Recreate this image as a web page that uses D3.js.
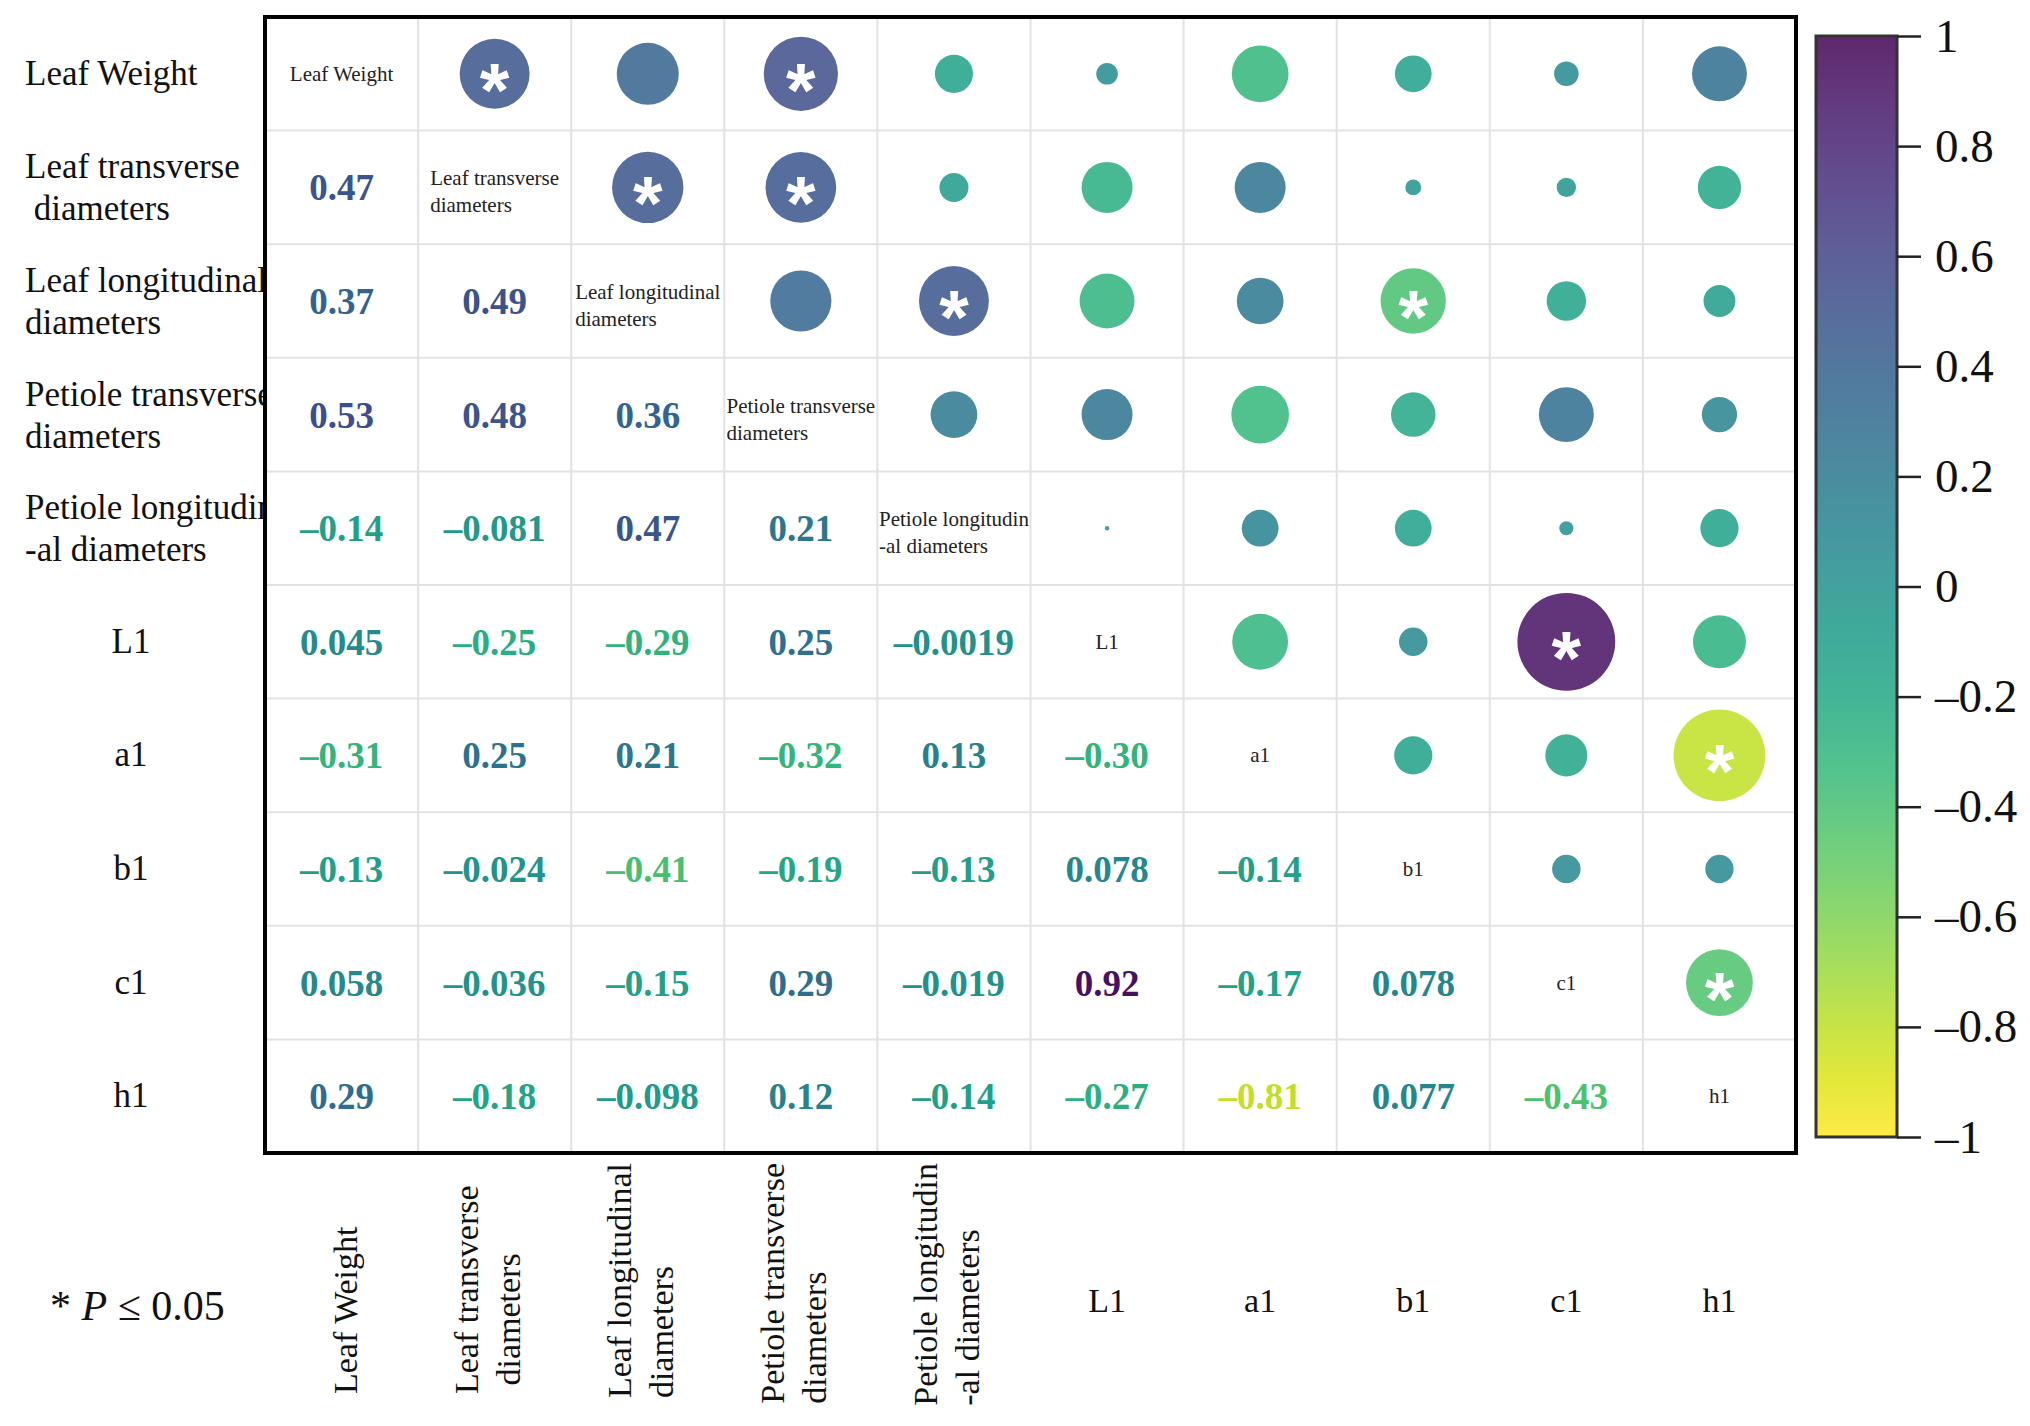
<!DOCTYPE html>
<html>
<head>
<meta charset="utf-8">
<script src="https://cdn.jsdelivr.net/npm/d3@7"></script>
<style>
body { margin: 0; background: #fff; }
text { font-family: "Liberation Serif", "Times New Roman", serif; }
</style>
</head>
<body>
<svg id="chart" width="2030" height="1426"></svg>
<script>
// variable names, split into the lines they are drawn with
const labelLines = [
  ["Leaf Weight"],
  ["Leaf transverse", " diameters"],
  ["Leaf longitudinal", "diameters"],
  ["Petiole transverse", "diameters"],
  ["Petiole longitudin", "-al diameters"],
  ["L1"], ["a1"], ["b1"], ["c1"], ["h1"]
];

// lower triangle of the correlation matrix, row by row
const lowerR = [
  [],
  [0.47],
  [0.37, 0.49],
  [0.53, 0.48, 0.36],
  [-0.14, -0.081, 0.47, 0.21],
  [0.045, -0.25, -0.29, 0.25, -0.0019],
  [-0.31, 0.25, 0.21, -0.32, 0.13, -0.30],
  [-0.13, -0.024, -0.41, -0.19, -0.13, 0.078, -0.14],
  [0.058, -0.036, -0.15, 0.29, -0.019, 0.92, -0.17, 0.078],
  [0.29, -0.18, -0.098, 0.12, -0.14, -0.27, -0.81, 0.077, -0.43]
];

// pairs (row, col) with P <= 0.05
const sigPairs = [[1,0],[3,0],[2,1],[3,1],[4,2],[7,2],[8,5],[9,6],[9,8]];

const cbTicks = [1, 0.8, 0.6, 0.4, 0.2, 0, -0.2, -0.4, -0.6, -0.8, -1];

var n = labelLines.length;
var R = d3.range(n).map(i => d3.range(n).map(j =>
  i === j ? 1 : (i > j ? lowerR[i][j] : lowerR[j][i])));
var sig = new Set(sigPairs.map(p => Math.min(p[0],p[1]) + "-" + Math.max(p[0],p[1])));

var svg = d3.select("#chart");

var plot = {left: 265, top: 17, right: 1796, bottom: 1153};

var x = d3.scaleBand().domain(d3.range(n)).range([plot.left, plot.right]);
var y = d3.scaleBand().domain(d3.range(n)).range([plot.top, plot.bottom]);
var radius = d3.scaleSqrt().domain([0, 1]).range([0, 51]);
var color = r => d3.interpolateViridis((1 - r) / 2);

var loc = d3.formatLocale({decimal: ".", thousands: ",", grouping: [3], currency: ["", ""], minus: "\u2013"});
var fmt = loc.format(".2r");
var fmtTick = loc.format("");

// row labels on the left (drawn first, the plot box covers their overflow)
var rowLab = svg.append("g");
labelLines.forEach(function(lines, i) {
  var cy = y(i) + y.bandwidth() / 2;
  var t = rowLab.append("text")
    .attr("xml:space", "preserve")
    .style("font-size", "35px")
    .attr("fill", "#111");
  lines.forEach(function(line, k) {
    var off = lines.length > 1 ? (k - 0.5) * 42 + 1 : 0;
    t.append("tspan")
      .attr("x", line.length > 3 ? 25 : 131)
      .attr("y", cy + 11 + off)
      .attr("text-anchor", line.length > 3 ? "start" : "middle")
      .text(line);
  });
});

// plot background
svg.append("rect")
  .attr("x", plot.left).attr("y", plot.top)
  .attr("width", plot.right - plot.left).attr("height", plot.bottom - plot.top)
  .attr("fill", "#fff");

// grid
var grid = svg.append("g").attr("stroke", "#e2e2e2").attr("stroke-width", 2);
d3.range(1, n).forEach(function(k) {
  grid.append("line").attr("x1", x(k)).attr("x2", x(k)).attr("y1", plot.top).attr("y2", plot.bottom);
  grid.append("line").attr("y1", y(k)).attr("y2", y(k)).attr("x1", plot.left).attr("x2", plot.right);
});

var cells = [];
R.forEach((row, i) => row.forEach((r, j) => cells.push({i: i, j: j, r: r})));

// circles in the upper triangle
var upper = cells.filter(d => d.j > d.i);
svg.append("g").selectAll("circle")
  .data(upper)
  .enter().append("circle")
    .attr("cx", d => x(d.j) + x.bandwidth() / 2)
    .attr("cy", d => y(d.i) + y.bandwidth() / 2)
    .attr("r", d => radius(Math.abs(d.r)))
    .attr("fill", d => color(d.r))
    .attr("fill-opacity", 0.85);

// significance stars
svg.append("g").selectAll("text")
  .data(upper.filter(d => sig.has(d.i + "-" + d.j)))
  .enter().append("text")
    .attr("x", d => x(d.j) + x.bandwidth() / 2)
    .attr("y", d => y(d.i) + y.bandwidth() / 2 + 42)
    .attr("text-anchor", "middle")
    .style("font-family", "'Liberation Sans', Arial, sans-serif")
    .style("font-weight", "bold")
    .style("font-size", "76px")
    .attr("fill", "#fff")
    .text("*");

// numbers in the lower triangle
svg.append("g").selectAll("text")
  .data(cells.filter(d => d.j < d.i))
  .enter().append("text")
    .attr("x", d => x(d.j) + x.bandwidth() / 2)
    .attr("y", d => y(d.i) + y.bandwidth() / 2 + 13)
    .attr("text-anchor", "middle")
    .style("font-size", "37px")
    .style("font-weight", "bold")
    .attr("fill", d => color(d.r))
    .text(d => fmt(d.r));

// variable names on the diagonal
var diag = svg.append("g");
labelLines.forEach(function(lines, i) {
  var cx = x(i) + x.bandwidth() / 2;
  var cy = y(i) + y.bandwidth() / 2;
  var t = diag.append("text")
    .style("font-size", "21px")
    .attr("fill", "#222");
  if (lines.length === 1) {
    t.attr("x", cx).attr("y", cy + 7).attr("text-anchor", "middle").text(lines[0]);
  } else {
    var spans = lines.map((line, k) => t.append("tspan").attr("y", cy - 2 + k * 27).text(line.trim()));
    var w = d3.max(spans, s => s.node().getComputedTextLength());
    spans.forEach(s => s.attr("x", cx - w / 2));
  }
});

// frame
svg.append("rect")
  .attr("x", plot.left).attr("y", plot.top)
  .attr("width", plot.right - plot.left).attr("height", plot.bottom - plot.top)
  .attr("fill", "none").attr("stroke", "#000").attr("stroke-width", 4);

// column labels below
var colLab = svg.append("g").attr("fill", "#111");
labelLines.forEach(function(lines, j) {
  var cx = x(j) + x.bandwidth() / 2;
  if (lines[0].length > 3) {
    var g = colLab.append("g");
    var texts = lines.map(function(line, k) {
      var off = lines.length > 1 ? (k === 0 ? -28 : 14) : 4;
      return g.append("text")
        .attr("xml:space", "preserve")
        .attr("x", 0).attr("y", off + 11)
        .style("font-size", "34px")
        .text(line);
    });
    // long names start lower so they stay clear of the frame
    var len = d3.max(texts, t => t.node().getComputedTextLength());
    var y0 = Math.max(1394, plot.bottom + 10 + len);
    g.attr("transform", "translate(" + cx + "," + y0 + ") rotate(-90)");
  } else {
    colLab.append("text")
      .attr("x", cx).attr("y", 1312)
      .attr("text-anchor", "middle")
      .style("font-size", "34px")
      .text(lines[0]);
  }
});

// significance note
var note = svg.append("text")
  .attr("x", 50).attr("y", 1320)
  .style("font-size", "42px")
  .attr("fill", "#111")
  .attr("xml:space", "preserve");
note.append("tspan").text("* ");
note.append("tspan").style("font-style", "italic").text("P");
note.append("tspan").text(" \u2264 0.05");

// colour bar
var cb = {left: 1816, right: 1897, top: 36, bottom: 1137};
var cbY = d3.scaleLinear().domain([1, -1]).range([cb.top, cb.bottom]);
var grad = svg.append("defs").append("linearGradient")
  .attr("id", "cbgrad").attr("x1", 0).attr("x2", 0).attr("y1", 0).attr("y2", 1);
d3.range(0, 1.0001, 0.05).forEach(function(t) {
  grad.append("stop")
    .attr("offset", t)
    .attr("stop-color", color(1 - 2 * t))
    .attr("stop-opacity", 0.85);
});
svg.append("rect")
  .attr("x", cb.left).attr("y", cb.top)
  .attr("width", cb.right - cb.left).attr("height", cb.bottom - cb.top)
  .attr("fill", "url(#cbgrad)")
  .attr("stroke", "#333").attr("stroke-width", 3);

var cbAxis = svg.append("g")
  .attr("transform", "translate(" + cb.right + ",0)")
  .call(d3.axisRight(cbY).tickValues(cbTicks).tickSize(24).tickPadding(14).tickFormat(fmtTick));
cbAxis.select(".domain").remove();
cbAxis.selectAll(".tick line").attr("stroke", "#222").attr("stroke-width", 2.5);
cbAxis.selectAll(".tick text")
  .attr("fill", "#111")
  .style("font-family", "'Liberation Serif', 'Times New Roman', serif")
  .style("font-size", "47px");
</script>
</body>
</html>
